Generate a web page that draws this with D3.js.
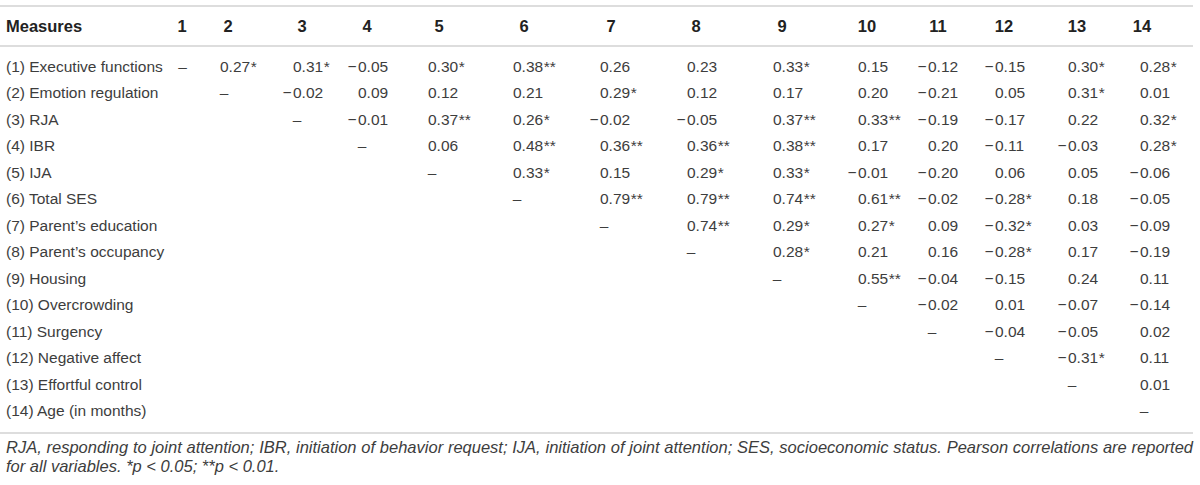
<!DOCTYPE html>
<html>
<head>
<meta charset="utf-8">
<script src="https://cdn.jsdelivr.net/npm/d3@7"></script>
<style>
  html, body { margin: 0; padding: 0; background: #fff; }
  svg { display: block; }
</style>
</head>
<body>
<svg id="chart" width="1200" height="485"></svg>
<script>
// ---------------- data ----------------
const headerTitle = "Measures";
const columnHeaders = ["1","2","3","4","5","6","7","8","9","10","11","12","13","14"];
const measures = [
  "(1) Executive functions",
  "(2) Emotion regulation",
  "(3) RJA",
  "(4) IBR",
  "(5) IJA",
  "(6) Total SES",
  "(7) Parent\u2019s education",
  "(8) Parent\u2019s occupancy",
  "(9) Housing",
  "(10) Overcrowding",
  "(11) Surgency",
  "(12) Negative affect",
  "(13) Effortful control",
  "(14) Age (in months)"
];
// correlations above the diagonal, row i holds columns i+2 .. 14
const correlations = [
  [0.27, 0.31, -0.05, 0.30, 0.38, 0.26, 0.23, 0.33, 0.15, -0.12, -0.15, 0.30, 0.28],
  [-0.02, 0.09, 0.12, 0.21, 0.29, 0.12, 0.17, 0.20, -0.21, 0.05, 0.31, 0.01],
  [-0.01, 0.37, 0.26, -0.02, -0.05, 0.37, 0.33, -0.19, -0.17, 0.22, 0.32],
  [0.06, 0.48, 0.36, 0.36, 0.38, 0.17, 0.20, -0.11, -0.03, 0.28],
  [0.33, 0.15, 0.29, 0.33, -0.01, -0.20, 0.06, 0.05, -0.06],
  [0.79, 0.79, 0.74, 0.61, -0.02, -0.28, 0.18, -0.05],
  [0.74, 0.29, 0.27, 0.09, -0.32, 0.03, -0.09],
  [0.28, 0.21, 0.16, -0.28, 0.17, -0.19],
  [0.55, -0.04, -0.15, 0.24, 0.11],
  [-0.02, 0.01, -0.07, -0.14],
  [-0.04, -0.05, 0.02],
  [-0.31, 0.11],
  [0.01],
  []
];
// number of significance stars for each correlation
const significance = [
  [1, 1, 0, 1, 2, 0, 0, 1, 0, 0, 0, 1, 1],
  [0, 0, 0, 0, 1, 0, 0, 0, 0, 0, 1, 0],
  [0, 2, 1, 0, 0, 2, 2, 0, 0, 0, 1],
  [0, 2, 2, 2, 2, 0, 0, 0, 0, 1],
  [1, 0, 1, 1, 0, 0, 0, 0, 0],
  [2, 2, 2, 2, 0, 1, 0, 0],
  [2, 1, 1, 0, 1, 0, 0],
  [1, 0, 0, 1, 0, 0],
  [2, 0, 0, 0, 0],
  [0, 0, 0, 0],
  [0, 0, 0],
  [1, 0],
  [0],
  []
];
const diagonalMark = "\u2013";
const footnoteLine1 = "RJA, responding to joint attention; IBR, initiation of behavior request; IJA, initiation of joint attention; SES, socioeconomic status. Pearson correlations are reported";
const footnoteLine2 = "for all variables. *p < 0.05; **p < 0.01.";

// ---------------- layout ----------------
const font = "'Liberation Sans', Arial, Helvetica, sans-serif";
const fs = 15.5;
const headFs = 16.5;
const noteFs = 16.5;
const textColor = "#3d3d3d";
const ruleColor = "#d2d2d2";
const leftX = 6, rightX = 1193;

// column anchor positions (where the leading "0" of a value starts)
const colAnchor = d3.scaleOrdinal()
  .domain(d3.range(14))
  .range([179, 220, 293, 358, 428, 513, 600, 687, 773, 858, 928, 995, 1068, 1140]);
const headerCenter = d3.scaleOrdinal()
  .domain(d3.range(14))
  .range([182, 228, 302, 367, 439, 524, 611, 696, 782, 867, 938, 1004, 1077, 1142]);
const rowY = d3.scaleLinear().domain([0, 13]).range([71.5, 416]);

const svg = d3.select("#chart");

// rules
const rules = [6, 46, 433];
svg.selectAll("line.rule").data(rules).join("line")
  .attr("class", "rule")
  .attr("x1", 0).attr("x2", rightX)
  .attr("y1", d => d).attr("y2", d => d)
  .attr("stroke", ruleColor).attr("stroke-width", 1.3);

// header
svg.append("text")
  .attr("x", leftX).attr("y", 32)
  .attr("font-family", font).attr("font-size", headFs).attr("font-weight", "bold")
  .attr("fill", "#222").text(headerTitle);

svg.selectAll("text.colhead").data(columnHeaders).join("text")
  .attr("class", "colhead")
  .attr("x", (d, i) => headerCenter(i)).attr("y", 32)
  .attr("text-anchor", "middle")
  .attr("font-family", font).attr("font-size", headFs).attr("font-weight", "bold")
  .attr("fill", "#222").text(d => d);

// row labels
svg.selectAll("text.rowlabel").data(measures).join("text")
  .attr("class", "rowlabel")
  .attr("x", leftX).attr("y", (d, i) => rowY(i))
  .attr("font-family", font).attr("font-size", fs)
  .attr("fill", textColor).text(d => d);

// cells
const fmt = d3.format(".2f");
const cells = [];
measures.forEach((m, r) => {
  cells.push({ row: r, col: r, diag: true });
  correlations[r].forEach((v, k) => {
    cells.push({ row: r, col: r + 1 + k, value: v, stars: significance[r][k] });
  });
});

const cellG = svg.append("g").attr("font-family", font).attr("font-size", fs).attr("fill", textColor);

cellG.selectAll("text.diag").data(cells.filter(c => c.diag)).join("text")
  .attr("class", "diag")
  .attr("x", c => c.col === 0 ? 182.5 : colAnchor(c.col) + 4)
  .attr("y", c => rowY(c.row))
  .attr("text-anchor", "middle")
  .text(diagonalMark);

const valCells = cells.filter(c => !c.diag);
const valText = cellG.selectAll("text.val").data(valCells).join("text")
  .attr("class", "val")
  .attr("x", c => colAnchor(c.col))
  .attr("y", c => rowY(c.row));
valText.append("tspan").text(c => fmt(Math.abs(c.value)));
valText.append("tspan").attr("dx", 0.5).text(c => "*".repeat(c.stars));

cellG.selectAll("text.minus").data(valCells.filter(c => c.value < 0)).join("text")
  .attr("class", "minus")
  .attr("x", c => colAnchor(c.col) - 1.5)
  .attr("y", c => rowY(c.row))
  .attr("text-anchor", "end")
  .text("\u2212");

// footnote (justified first line)
const noteG = svg.append("g")
  .attr("font-family", font).attr("font-size", noteFs).attr("font-style", "italic")
  .attr("fill", textColor);

const words = footnoteLine1.split(" ");
const tmp = noteG.append("text").attr("x", -1000).attr("y", -1000);
const widths = words.map(w => { tmp.text(w); return tmp.node().getComputedTextLength(); });
tmp.remove();
const total = d3.sum(widths);
const gap = (rightX - leftX - total) / (words.length - 1);
let cx = leftX;
const wordPos = widths.map(w => { const p = cx; cx += w + gap; return p; });
noteG.selectAll("text.w").data(words).join("text")
  .attr("class", "w")
  .attr("x", (d, i) => wordPos[i]).attr("y", 452.5)
  .text(d => d);

noteG.append("text").attr("x", leftX).attr("y", 472).text(footnoteLine2);
</script>
</body>
</html>
